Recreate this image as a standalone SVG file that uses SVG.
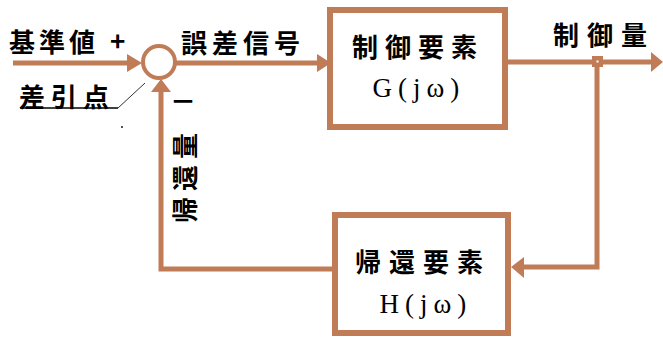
<svg xmlns="http://www.w3.org/2000/svg" width="663" height="338" viewBox="0 0 663 338">
<style>
.ln{fill:none;stroke:#C07C57;stroke-width:5}
.box{fill:#fff;stroke:#C07C57;stroke-width:6}
.ah{fill:#C07C57}
.t{font-family:"Noto Sans CJK JP","Noto Sans",sans-serif;font-weight:bold;fill:#000;font-size:26px}
.s{font-family:"Liberation Serif","Noto Serif",serif;fill:#000;font-size:27px}
</style>
<rect width="663" height="338" fill="#fff"/>
<g id="connectors">
  <line class="ln" x1="13" y1="63" x2="130" y2="63"/>
  <polygon class="ah" points="142,63 127,54 127,72"/>
  <line class="ln" x1="175" y1="63" x2="320" y2="63"/>
  <polygon class="ah" points="331,63 317,54 317,72"/>
  <line class="ln" x1="505" y1="62" x2="652" y2="62"/>
  <polygon class="ah" points="663,62 651,52 651,72"/>
  <polyline class="ln" points="597,62 597,267 522,267"/>
  <polygon class="ah" points="511,267 524,257 524,278"/>
  <polyline class="ln" points="335,269 161,269 161,90"/>
  <polygon class="ah" points="161,79 151,92 171,92"/>
  <line stroke="#333" stroke-width="1" x1="118" y1="108" x2="145" y2="83"/>
  <line stroke="#000" stroke-width="1.5" x1="20" y1="108" x2="118" y2="108"/>
  <rect x="121" y="126" width="2" height="2" fill="#555"/>
</g>
<g id="sum">
  <circle cx="159" cy="62" r="16" fill="#fff" stroke="#C07C57" stroke-width="4"/>
</g>
<g id="junction">
  <rect x="592" y="56" width="11" height="11" class="ah"/>
  <rect x="596.5" y="60.5" width="2" height="2" fill="#fff"/>
</g>
<g id="blockG">
  <rect class="box" x="330" y="10" width="175" height="117"/>
  <text class="t" x="418" y="57" letter-spacing="7" text-anchor="middle">制御要素</text>
  <text class="s" x="419" y="97" letter-spacing="6" text-anchor="middle">G(jω)</text>
</g>
<g id="blockH">
  <rect class="box" x="335" y="215" width="173" height="118"/>
  <text class="t" x="423" y="272" letter-spacing="8" text-anchor="middle">帰還要素</text>
  <text class="s" x="426" y="313" letter-spacing="6" text-anchor="middle">H(jω)</text>
</g>
<g id="labels">
  <text class="t" x="9" y="52" letter-spacing="4">基準値</text>
  <text class="t" x="110" y="51">+</text>
  <text class="t" x="19" y="107" letter-spacing="6">差引点</text>
  <text class="t" x="181" y="53" letter-spacing="5">誤差信号</text>
  <text class="t" x="553" y="45" letter-spacing="8">制御量</text>
  <text class="t" x="170" y="111">－</text>
  <text class="t" transform="translate(195,175) rotate(-90)" letter-spacing="6" text-anchor="middle">帰還量</text>
</g>
</svg>
